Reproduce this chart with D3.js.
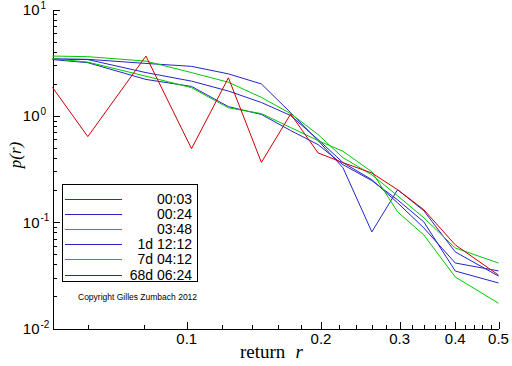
<!DOCTYPE html>
<html><head><meta charset="utf-8">
<script src="https://cdn.jsdelivr.net/npm/d3@7"></script>
<style>body{margin:0;background:#fff}svg{display:block}</style>
</head><body>
<svg id="c" width="512" height="366"></svg>
<script>
// ---- data ----
const returns   = [0.05, 0.06, 0.081, 0.1025, 0.124, 0.147, 0.171, 0.197, 0.224, 0.26, 0.297, 0.34, 0.40, 0.5];
const p_0003    = [1.85, 0.638, 3.65, 0.491, 2.28, 0.365, 1.04, 0.448, 0.363, 0.290, 0.202, 0.131, 0.0611, 0.0318];
const p_0024    = [3.43, 3.40, 3.11, 2.92, 2.48, 1.995, 1.07, 0.585, 0.325, 0.081, 0.202, 0.128, 0.0525, 0.0311];
const p_0348    = [3.65, 3.60, 3.27, 2.55, 2.07, 1.49, 1.05, 0.667, 0.404, 0.279, 0.177, 0.110, 0.0572, 0.0413];
const p_1d1212  = [3.42, 3.38, 2.55, 2.12, 1.71, 1.335, 1.006, 0.598, 0.363, 0.251, 0.152, 0.0883, 0.0413, 0.0348];
const p_7d0412  = [3.45, 3.20, 2.36, 1.84, 1.19, 1.05, 0.776, 0.585, 0.464, 0.298, 0.125, 0.0759, 0.0305, 0.0173];
const p_68d0624 = [3.38, 3.16, 2.20, 1.89, 1.22, 1.03, 0.727, 0.536, 0.347, 0.246, 0.162, 0.1007, 0.0347, 0.0268];
const seriesNames  = ["00:03", "00:24", "03:48", "1d 12:12", "7d 04:12", "68d 06:24"];
const seriesValues = [p_0003, p_0024, p_0348, p_1d1212, p_7d0412, p_68d0624];
const seriesColors = ["#cc0000", "#2424c8", "#00c800", "#2424c8", "#00c800", "#2424c8"];
const xMajorTicks = [0.1, 0.2, 0.3, 0.4, 0.5];
const xMajorLabels = ["0.1", "0.2", "0.3", "0.4", "0.5"];
const xMinorTicks = [0.06, 0.08, 0.12, 0.14, 0.16, 0.18, 0.22, 0.24, 0.26, 0.28, 0.32, 0.34, 0.36, 0.38, 0.42, 0.44, 0.46, 0.48];
const yMajorExponents = [-2, -1, 0, 1];
const yMinorMultipliers = [2, 3, 4, 5, 6, 7, 8, 9];
const xTitle = "return";
const xTitleVar = "r";
const yTitle = "p(r)";
const copyright = "Copyright Gilles Zumbach 2012";

// ---- layout ----
const svg = d3.select("#c");
const x = d3.scaleLog().domain([0.05, 0.5]).range([52.5, 498.5]);
const y = d3.scaleLog().domain([0.01, 10]).range([328.5, 9.5]);

const yMajor = yMajorExponents.map(e => Math.pow(10, e));
const yMinor = [];
yMajorExponents.slice(0, -1).forEach(e => yMinorMultipliers.forEach(m => yMinor.push(m * Math.pow(10, e))));

const sans = "'Liberation Sans', Arial, sans-serif";
const serif = "'Liberation Serif', 'Times New Roman', serif";

// axes
const gx = svg.append("g").attr("transform", "translate(0,328.5)");
gx.call(d3.axisBottom(x).tickValues(xMinorTicks).tickSizeInner(-3.5).tickSizeOuter(0).tickFormat(""));
gx.append("g").call(d3.axisBottom(x).tickValues(xMajorTicks).tickSizeInner(-7).tickSizeOuter(0).tickFormat(""))
  .select(".domain").remove();
gx.selectAll("path,line").attr("stroke", "#000").attr("shape-rendering", "crispEdges");
gx.selectAll(".xl").data(xMajorTicks).enter().append("text")
  .attr("x", d => x(d)).attr("y", 15).attr("text-anchor", "middle")
  .attr("font-family", sans).attr("font-size", 15).attr("fill", "#000")
  .text((d, i) => xMajorLabels[i]);

const gy = svg.append("g").attr("transform", "translate(52.5,0)");
gy.call(d3.axisLeft(y).tickValues(yMinor).tickSizeInner(-4).tickSizeOuter(0).tickFormat(""));
gy.append("g").call(d3.axisLeft(y).tickValues(yMajor).tickSizeInner(-7).tickSizeOuter(0).tickFormat(""))
  .select(".domain").remove();
gy.selectAll("path,line").attr("stroke", "#000").attr("shape-rendering", "crispEdges");
const yl = gy.selectAll(".yl").data(yMajorExponents).enter().append("text")
  .attr("x", -13).attr("y", d => y(Math.pow(10, d)) + 5.5).attr("text-anchor", "end")
  .attr("font-family", sans).attr("font-size", 15).attr("fill", "#000");
yl.append("tspan").text("10");
gy.selectAll(".ys").data(yMajorExponents).enter().append("text")
  .attr("x", -12).attr("y", d => y(Math.pow(10, d)) - 1).attr("text-anchor", "start")
  .attr("font-family", sans).attr("font-size", 10).attr("fill", "#000")
  .text(d => d === 0 ? "0" : (d < 0 ? "-" + (-d) : String(d)));

// titles
const xt = svg.append("text").attr("x", 240).attr("y", 358)
  .attr("font-family", serif).attr("font-size", 19).attr("fill", "#000");
xt.append("tspan").text(xTitle);
xt.append("tspan").attr("dx", 10).attr("font-style", "italic").text(xTitleVar);
svg.append("text").attr("transform", "translate(21,155) rotate(-90)").attr("text-anchor", "middle")
  .attr("font-family", serif).attr("font-style", "italic").attr("font-size", 17).attr("fill", "#000")
  .text(yTitle);

// series
const line = d3.line().x(d => x(d[0])).y(d => y(d[1]));
const order = [1, 3, 5, 2, 4, 0];
order.forEach(i => {
  svg.append("path").datum(returns.map((r, k) => [r, seriesValues[i][k]]))
    .attr("d", line).attr("fill", "none").attr("stroke", seriesColors[i]).attr("stroke-width", 1);
});

// legend
const lg = svg.append("g");
lg.append("rect").attr("x", 62.5).attr("y", 184.5).attr("width", 135).attr("height", 97)
  .attr("fill", "#fff").attr("stroke", "#000").attr("stroke-width", 1);
seriesNames.forEach((n, i) => {
  const yy = 198.5 + i * 15.2;
  lg.append("line").attr("x1", 65).attr("x2", 122).attr("y1", Math.round(yy) + 0.5).attr("y2", Math.round(yy) + 0.5)
    .attr("stroke", seriesColors[i]).attr("stroke-width", 1.2).attr("shape-rendering", "crispEdges");
  lg.append("text").attr("x", 192).attr("y", yy + 5).attr("text-anchor", "end")
    .attr("font-family", sans).attr("font-size", 14).attr("fill", "#000").text(n);
});
svg.append("text").attr("x", 78).attr("y", 300).attr("font-family", sans).attr("font-size", 8.5)
  .attr("fill", "#000").text(copyright);
</script>
</body></html>
